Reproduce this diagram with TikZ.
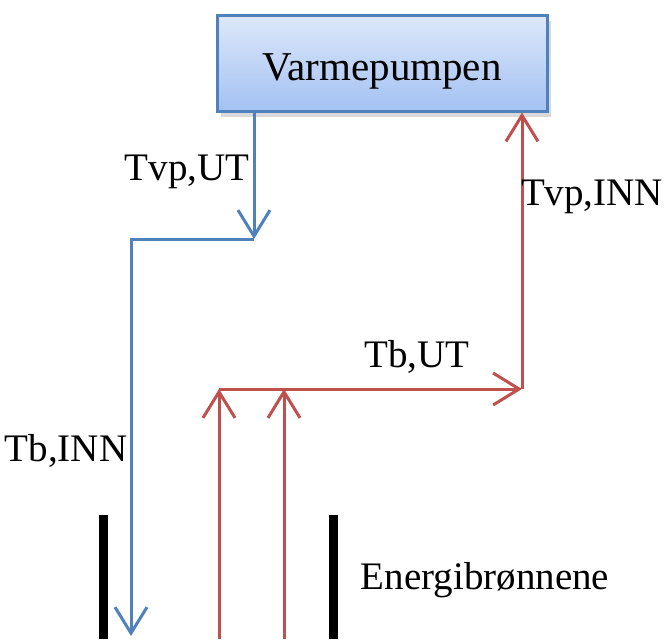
\documentclass[tikz,border=0pt]{standalone}
\usepackage{fontspec}
\setmainfont{Liberation Serif}
\usetikzlibrary{arrows.meta,shadows}
\definecolor{vpblue}{HTML}{4F81BD}
\definecolor{vpred}{HTML}{C0504D}
\definecolor{boxtop}{HTML}{DDE8FA}
\definecolor{boxbot}{HTML}{A3C1F2}

\begin{document}
\begin{tikzpicture}[x=0.5pt, y=-0.5pt,
    font=\fontsize{19.5}{23}\selectfont,
    pumpbox/.style={draw=vpblue, line width=1.5pt, top color=boxtop, bottom color=boxbot,
        minimum width=165pt, minimum height=48pt, inner sep=0pt,
        font=\fontsize{20.5}{24}\selectfont,
        text height=21pt, text depth=4pt,
        drop shadow={opacity=0.3, shadow xshift=2pt, shadow yshift=-3pt}},
    cold/.style={draw=vpblue, line width=1.5pt},
    warm/.style={draw=vpred, line width=1.5pt},
    flow/.style={-{Straight Barb[length=13pt, width=16pt, line width=1.5pt]}},
    wall/.style={line width=4.5pt, black},
    lbl/.style={inner sep=1pt}
]
\useasboundingbox (0,0) rectangle (664,639);

%% heat pump
\node[pumpbox] (vp) at (382,63) {Varmepumpen};

%% cold side (out of the pump, down into the well)
\coordinate (tvpUT)   at (254,239);
\coordinate (tbINN)   at (131,239);
\coordinate (coldEnd) at (131,636);
\draw[cold,flow] (vp.south -| tvpUT) -- (tvpUT);
\draw[cold,flow] (tvpUT) -- (tbINN) -- (coldEnd);

%% warm side (up from the wells, back into the pump)
\coordinate (wellA) at (219,639);
\coordinate (wellB) at (284,639);
\coordinate (topA)  at (219,389);
\coordinate (topB)  at (284,389);
\coordinate (tbUT)  at (522,389);
\draw[warm,flow] (wellA) -- (topA);
\draw[warm,flow] (wellB) -- (topB);
\draw[warm,flow] (topA) -- (tbUT);
\draw[warm,flow] (tbUT) -- (vp.south -| tbUT);

%% boreholes
\draw[wall] (103,515) -- (103,639);
\draw[wall] (333,515) -- (333,639);

%% labels
\node[lbl] (lTvpUT)  at (187,172) {Tvp,UT};
\node[lbl] (lTvpINN) at (592,197) {Tvp,INN};
\node[lbl] (lTbUT)   at (417,357) {Tb,UT};
\node[lbl] (lTbINN)  at (66,451)  {Tb,INN};
\node[lbl] (lBronn)  at (485,580) {Energibrønnene};
\end{tikzpicture}
\end{document}
